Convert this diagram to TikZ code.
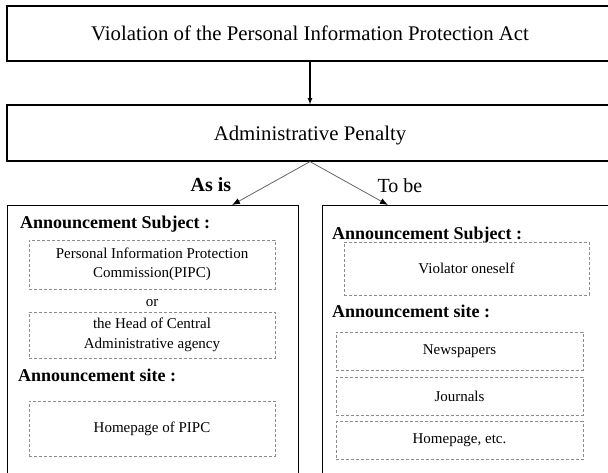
\documentclass[tikz,border=0pt]{standalone}
\usepackage{fontspec}
\setmainfont{Liberation Serif}
\usetikzlibrary{arrows.meta}

\tikzset{
  frame/.style={draw, line width=1.2pt, inner sep=0pt},
  bigtext/.style={font=\fontsize{20.8}{25}\selectfont, text height=14pt, text depth=0pt},
  dashbox/.style={draw=black!45, dash pattern=on 3pt off 2pt, line width=0.8pt, inner sep=0pt, align=center},
  heading/.style={anchor=base west, inner sep=0pt, font=\fontsize{18}{22}\selectfont\bfseries},
  fork/.style={black!60, line width=0.8pt, -{Latex[black,length=8pt,width=6pt]}},
}

\begin{document}
\begin{tikzpicture}[x=1pt,y=-1pt,font=\fontsize{15}{19.5}\selectfont]
\useasboundingbox (0,0) rectangle (608,472);
\clip (0,0) rectangle (608,472);

% top
\node[frame, bigtext, minimum width=606pt, minimum height=55pt] (viol) at (310,33.5) {Violation of the Personal Information Protection Act};
\node[frame, bigtext, minimum width=606pt, minimum height=56pt] (pen) at (310,133) {Administrative Penalty};
\draw[-latex, line width=1.2pt] (viol) -- (pen);

% the two columns
\node[frame, minimum width=291pt, minimum height=280pt, anchor=north west] (asis) at (7,205) {};
\node[frame, minimum width=292pt, minimum height=280pt, anchor=north west] (tobe) at (322,205) {};
\coordinate (tipA) at (232,205);
\coordinate (tipB) at (388,205);
\draw[fork] (pen.south) -- (tipA);
\draw[fork] (pen.south) -- (tipB);
\node[anchor=base, font=\fontsize{20}{24}\selectfont\bfseries] (asislbl) at (211,191) {As is};
\node[anchor=base, font=\fontsize{20}{24}\selectfont] (tobelbl) at (400,192) {To be};

% as is
\node[heading] (subjA) at (20,228) {Announcement Subject :};
\node[dashbox, minimum width=246pt, minimum height=49pt] (pipc) at (152,264.5) {Personal Information Protection\\Commission(PIPC)};
\node[anchor=base] (orA) at (152,306) {or};
\node[dashbox, minimum width=246pt, minimum height=46pt] (headA) at (152,335) {the Head of Central\\Administrative agency};
\node[heading] (siteA) at (18,381) {Announcement site :};
\node[dashbox, minimum width=246pt, minimum height=55pt] (homeA) at (152,428.5) {Homepage of PIPC};

% to be
\node[heading] (subjB) at (332,239) {Announcement Subject :};
\node[dashbox, minimum width=245pt, minimum height=53pt] (self) at (466.5,268.5) {Violator oneself};
\node[heading] (siteB) at (332,317) {Announcement site :};
\foreach \nm/\yc/\txt in {news/351/Newspapers, jour/396/Journals, web/440.5/{Homepage, etc.}}
  \node[dashbox, minimum width=247pt, minimum height=38pt] (\nm) at (459.5,\yc) {\txt};
\end{tikzpicture}
\end{document}
